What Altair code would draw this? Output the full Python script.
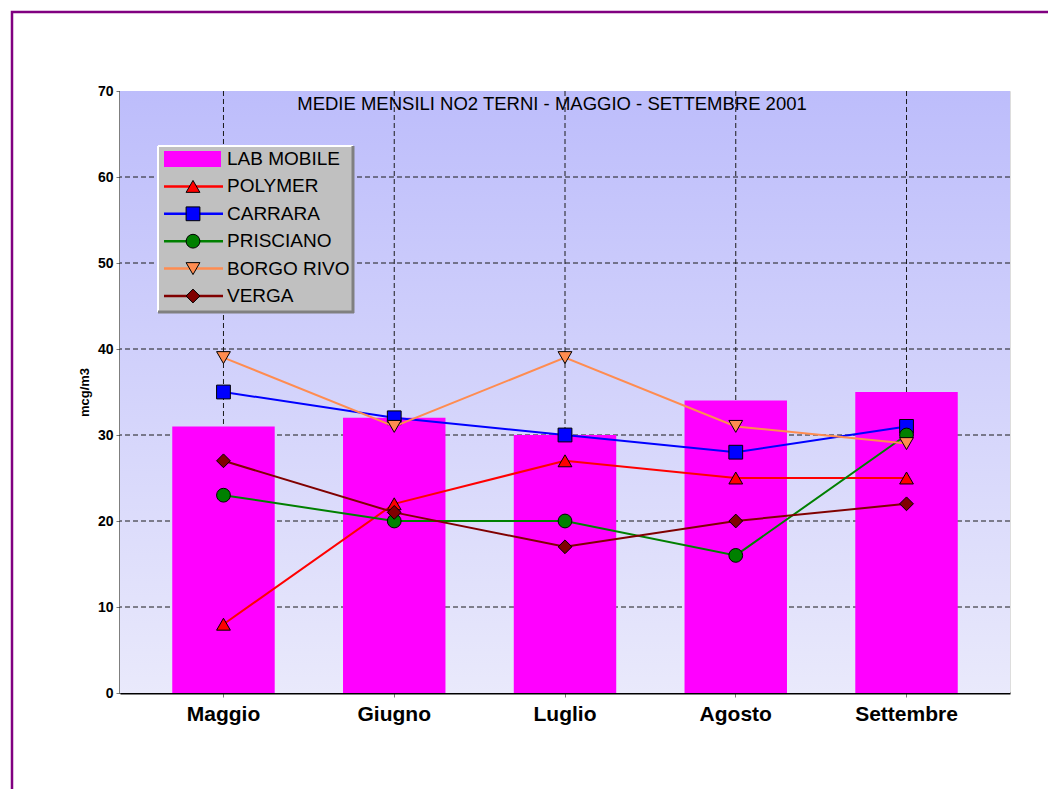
import altair as alt
import pandas as pd

# ---------------- data ----------------
months = ["Maggio", "Giugno", "Luglio", "Agosto", "Settembre"]
lab_mobile = [31, 32, 30, 34, 35]
polymer = [8, 22, 27, 25, 25]
carrara = [35, 32, 30, 28, 31]
prisciano = [23, 20, 20, 16, 30]
borgo_rivo = [39, 31, 39, 31, 29]
verga = [27, 21, 17, 20, 22]
y_ticks = [0, 10, 20, 30, 40, 50, 60, 70]
grid_y = [10, 20, 30, 40, 50, 60]

series_names = ["POLYMER", "CARRARA", "PRISCIANO", "BORGO RIVO", "VERGA"]
series_values = [polymer, carrara, prisciano, borgo_rivo, verga]
series_colors = ["#ff0000", "#0000ff", "#008000", "#ff8c50", "#800000"]
series_shapes = ["triangle-up", "square", "circle", "triangle-down", "diamond"]
bar_name = "LAB MOBILE"
title_text = "MEDIE MENSILI NO2 TERNI - MAGGIO - SETTEMBRE 2001"
y_title = "mcg/m3"

FONT = "Liberation Sans"
W, H = 890, 602

xs = alt.Scale(domain=months, paddingInner=0.4, paddingOuter=0.306)
ys = alt.Scale(domain=[0, 70], nice=False, zero=True)

bar_df = pd.DataFrame({"mese": months, "valore": lab_mobile})

# background gradient
grad = alt.Gradient(
    gradient="linear",
    stops=[alt.GradientStop(color="#bdbdfb", offset=0),
           alt.GradientStop(color="#e9e9fb", offset=1)],
    x1=0, x2=0, y1=0, y2=1,
)
bg = alt.Chart(pd.DataFrame({"a": [0]})).mark_rect(color=grad).encode(
    x=alt.value(0), x2=alt.value(W), y=alt.value(0), y2=alt.value(H)
)

hgrid = alt.Chart(pd.DataFrame({"valore": grid_y})).mark_rule(
    color="#1a1a1a", strokeDash=[5, 3], strokeWidth=1
).encode(y=alt.Y("valore:Q", scale=ys))

vgrid = alt.Chart(pd.DataFrame({"mese": months})).mark_rule(
    color="#1a1a1a", strokeDash=[5, 3], strokeWidth=1
).encode(x=alt.X("mese:N", scale=xs, bandPosition=0.5, sort=months))

bars = alt.Chart(bar_df).mark_bar(color="#ff00ff").encode(
    x=alt.X("mese:N", sort=months, scale=xs,
            axis=alt.Axis(title=None, labelFont=FONT, labelFontSize=21,
                          labelFontWeight="bold", labelColor="black", labelAngle=0,
                          labelAlign="center", labelBaseline="top",
                          domainColor="black", domainWidth=2, tickColor="#777",
                          tickSize=4, labelPadding=6, grid=False, bandPosition=0.5)),
    y=alt.Y("valore:Q", scale=ys,
            axis=alt.Axis(title=y_title, values=y_ticks, labelFont=FONT,
                          labelFontSize=14, labelFontWeight="bold", labelColor="black",
                          titleFont=FONT, titleFontSize=13, titleFontWeight="bold",
                          titleColor="black", titlePadding=6,
                          domainColor="black", domainWidth=2, tickColor="#777",
                          tickSize=4, labelPadding=3, grid=False)),
)

layers = [bg, hgrid, vgrid, bars]

for name, vals, col, shp in zip(series_names, series_values, series_colors, series_shapes):
    df = pd.DataFrame({"mese": months, "valore": vals})
    enc = dict(
        x=alt.X("mese:N", sort=months, scale=xs),
        y=alt.Y("valore:Q", scale=ys),
    )
    ln = alt.Chart(df).mark_line(color=col, strokeWidth=2).encode(**enc)
    pt = alt.Chart(df).mark_point(shape=shp, filled=True, fill=col, stroke="black",
                                  strokeWidth=1, size=190, opacity=1).encode(**enc)
    layers += [ln, pt]

# ---------------- legend (hand-built box) ----------------
LX0, LX1, LY0, LY1 = 38, 233, 55, 221
row_y = [68 + 27.4 * i for i in range(6)]
leg_box = alt.Chart(pd.DataFrame({"a": [0]})).mark_rect(color="#c0c0c0").encode(
    x=alt.value(LX0), x2=alt.value(LX1), y=alt.value(LY0), y2=alt.value(LY1))
leg_hi_top = alt.Chart(pd.DataFrame({"a": [0]})).mark_rule(color="white", strokeWidth=2).encode(
    x=alt.value(LX0), x2=alt.value(LX1), y=alt.value(LY0))
leg_hi_left = alt.Chart(pd.DataFrame({"a": [0]})).mark_rule(color="white", strokeWidth=2).encode(
    x=alt.value(LX0), y=alt.value(LY0), y2=alt.value(LY1))
leg_sh_bot = alt.Chart(pd.DataFrame({"a": [0]})).mark_rule(color="#808080", strokeWidth=3).encode(
    x=alt.value(LX0), x2=alt.value(LX1 + 1), y=alt.value(LY1))
leg_sh_right = alt.Chart(pd.DataFrame({"a": [0]})).mark_rule(color="#808080", strokeWidth=3).encode(
    x=alt.value(LX1), y=alt.value(LY0), y2=alt.value(LY1 + 1))
layers += [leg_box, leg_hi_top, leg_hi_left, leg_sh_bot, leg_sh_right]

swatch = alt.Chart(pd.DataFrame({"a": [0]})).mark_rect(color="#ff00ff").encode(
    x=alt.value(44), x2=alt.value(101), y=alt.value(row_y[0] - 8), y2=alt.value(row_y[0] + 8))
layers.append(swatch)
for i, (col, shp) in enumerate(zip(series_colors, series_shapes)):
    yy = row_y[i + 1]
    seg = alt.Chart(pd.DataFrame({"a": [0]})).mark_rule(color=col, strokeWidth=2.5).encode(
        x=alt.value(44), x2=alt.value(103), y=alt.value(yy))
    sym = alt.Chart(pd.DataFrame({"a": [0]})).mark_point(
        shape=shp, filled=True, fill=col, stroke="black", strokeWidth=1, size=190, opacity=1
    ).encode(x=alt.value(73), y=alt.value(yy))
    layers += [seg, sym]

leg_text_df = pd.DataFrame({"label": [bar_name] + series_names, "ypix": row_y})
leg_text = alt.Chart(leg_text_df).mark_text(
    align="left", baseline="middle", font=FONT, fontSize=19, color="black"
).encode(x=alt.value(107), y=alt.Y("ypix:Q", scale=None, axis=None), text="label:N")
layers.append(leg_text)

title = alt.Chart(pd.DataFrame({"t": [title_text]})).mark_text(
    align="center", baseline="middle", font=FONT, fontSize=18.5, color="black"
).encode(x=alt.value(432), y=alt.value(13), text="t:N")
layers.append(title)

frame = alt.Chart(pd.DataFrame({"a": [0]})).mark_rect(
    fill=None, filled=False, stroke="#800080", strokeWidth=2.5
).encode(x=alt.value(-108), x2=alt.value(1200), y=alt.value(-79), y2=alt.value(1000))
layers.append(frame)

chart = alt.layer(*layers).properties(
    width=W, height=H,
    autosize=alt.AutoSizeParams(type="none"),
    padding={"left": 112, "top": 83, "right": 38, "bottom": 96},
).configure_view(stroke="#505050", strokeWidth=1).configure(background="white")

chart.save("out.html", embed_options={"renderer": "svg", "actions": False})
